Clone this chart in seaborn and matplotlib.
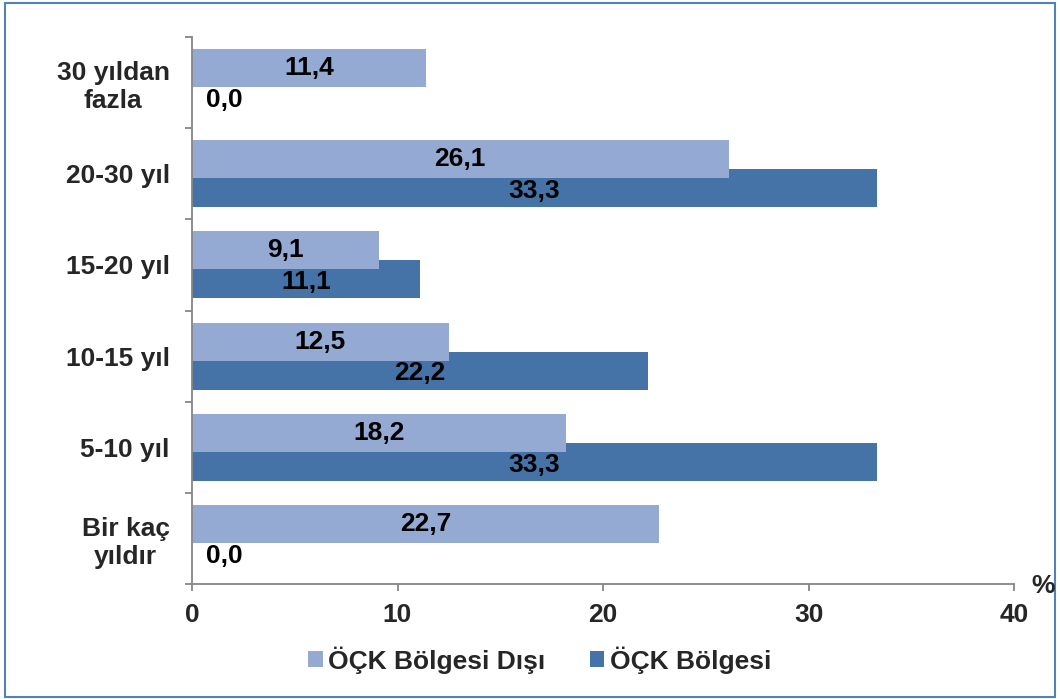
import matplotlib
matplotlib.use("Agg")
import matplotlib.pyplot as plt
import seaborn as sns
import numpy as np
import pandas as pd
from matplotlib.patches import Rectangle, Patch
from matplotlib.ticker import FixedLocator

categories = ["30 yıldan\nfazla", "20-30 yıl", "15-20 yıl", "10-15 yıl", "5-10 yıl", "Bir kaç\nyıldır"]
series_names = ["ÖÇK Bölgesi Dışı", "ÖÇK Bölgesi"]
disi_values = [11.4, 26.1, 9.1, 12.5, 18.2, 22.7]
bolge_values = [0.0, 33.3, 11.1, 22.2, 33.3, 0.0]
x_ticks = [0, 10, 20, 30, 40]

light = "#95AAD2"
dark = "#4573A7"

sns.set_theme(style="white")
plt.rcParams["font.family"] = ["Liberation Sans", "DejaVu Sans"]
plt.rcParams["font.weight"] = "bold"

fig = plt.figure(figsize=(10.6, 6.99), dpi=100)
ax = fig.add_axes([0.181, 0.1645, 0.776, 0.7825])

pos = np.arange(len(categories))
off = 0.159
bh = 0.417

df_d = pd.DataFrame({"v": bolge_values, "p": pos + off})
df_l = pd.DataFrame({"v": disi_values, "p": pos - off})

sns.barplot(data=df_d, x="v", y="p", orient="h", native_scale=True, width=bh,
            color=dark, saturation=1, ax=ax, errorbar=None, linewidth=0)
sns.barplot(data=df_l, x="v", y="p", orient="h", native_scale=True, width=bh,
            color=light, saturation=1, ax=ax, errorbar=None, linewidth=0)

fs = 19
for i, (vl, vd) in enumerate(zip(disi_values, bolge_values)):
    for v, yy in ((vl, i - off), (vd, i + off + 0.03)):
        txt = f"{v:.1f}".replace(".", ",")
        if v == 0:
            ax.text(0.7, yy, txt, ha="left", va="center", fontsize=fs, fontweight="bold", color="black")
        else:
            ax.text(v / 2, yy, txt, ha="center", va="center", fontsize=fs, fontweight="bold", color="black")

ax.set_xlim(0, 40)
ax.set_ylim(len(categories) - 0.5, -0.5)
ax.set_xlabel("")
ax.set_ylabel("")

ax.set_xticks(x_ticks)
ax.set_xticklabels([str(t) for t in x_ticks], fontsize=fs, fontweight="bold")
ax.set_yticks(pos)
ax.set_yticklabels(categories, fontsize=fs, fontweight="bold", multialignment="center")
ax.yaxis.set_minor_locator(FixedLocator(np.arange(-0.5, len(categories), 1.0)))

for s in ["top", "right"]:
    ax.spines[s].set_visible(False)
for s in ["left", "bottom"]:
    ax.spines[s].set_color("#868686")
    ax.spines[s].set_linewidth(1.3)

ax.tick_params(axis="y", which="major", length=0, pad=16)
ax.tick_params(axis="y", which="minor", length=5, width=1.3, color="#868686", left=True)
ax.tick_params(axis="x", which="major", length=5, width=1.3, color="#868686", bottom=True, pad=9)

fig.text(1043 / 1060, 1 - 586 / 699, "%", ha="center", va="center", fontsize=fs, fontweight="bold")

handles = [Patch(facecolor=light, edgecolor="none"), Patch(facecolor=dark, edgecolor="none")]
fig.legend(handles, series_names, loc="center", bbox_to_anchor=(0.509, 1 - 660 / 699), ncol=2,
           frameon=False, prop={"size": fs, "weight": "bold"}, handlelength=0.55, handleheight=0.55,
           handletextpad=0.2, columnspacing=1.7)

fig.patches.append(Rectangle((5 / 1060, 2 / 699), 1050 / 1060, 694 / 699, transform=fig.transFigure,
                             fill=False, edgecolor="#4F81BD", linewidth=1.5))

fig.savefig("out.png", dpi=100)
